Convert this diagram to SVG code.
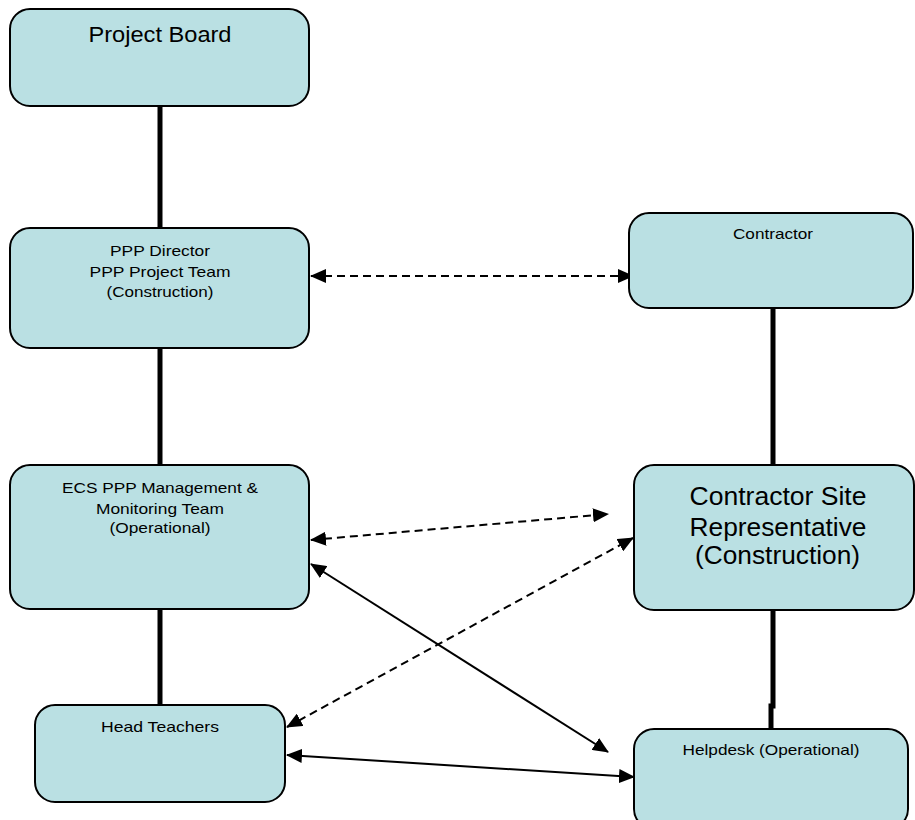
<svg xmlns="http://www.w3.org/2000/svg" width="915" height="820" viewBox="0 0 915 820">
  <style>
    .box { fill: #BAE0E3; stroke: #000; stroke-width: 2; }
    .lbl { font-family: "Liberation Sans", Arial, sans-serif; fill: #000; text-anchor: middle; }
    .s { font-size: 15px; }
    .m { font-size: 22px; }
    .l { font-size: 25px; }
    .trunk { stroke: #000; stroke-width: 5; fill: none; }
    .dash { stroke: #000; stroke-width: 2; stroke-dasharray: 8 5; fill: none; marker-start: url(#head); marker-end: url(#head); }
    .solid { stroke: #000; stroke-width: 2; fill: none; marker-start: url(#head); marker-end: url(#head); }
  </style>
  <defs>
    <marker id="head" markerUnits="userSpaceOnUse" markerWidth="16" markerHeight="14" refX="15" refY="7" orient="auto-start-reverse">
      <path d="M0,0 L16,7 L0,14 Z" fill="#000"/>
    </marker>
  </defs>
  <rect width="915" height="820" fill="#fff"/>

  <!-- connectors -->
  <g id="connectors">
    <line class="trunk" x1="160" y1="106" x2="160" y2="228"/>
    <line class="trunk" x1="160" y1="348" x2="160" y2="465"/>
    <line class="trunk" x1="160" y1="609" x2="160" y2="705"/>
    <line class="trunk" x1="773" y1="308" x2="773" y2="465"/>
    <polyline class="trunk" points="773,610 773,706 771,706 771,729"/>
    <line class="dash" x1="311" y1="276" x2="633" y2="276"/>
    <line class="dash" x1="311" y1="540" x2="608" y2="514"/>
    <line class="dash" x1="287" y1="727" x2="633" y2="538"/>
    <line class="solid" x1="311" y1="564" x2="608" y2="752"/>
    <line class="solid" x1="287" y1="755" x2="634" y2="777"/>
  </g>

  <g id="project-board">
    <rect class="box" x="10" y="9" width="299" height="97" rx="20"/>
    <text class="lbl m" x="160" y="42" textLength="143" lengthAdjust="spacingAndGlyphs">Project Board</text>
  </g>

  <g id="ppp-director">
    <rect class="box" x="10" y="228" width="299" height="120" rx="20"/>
    <text class="lbl s" x="160" y="256" textLength="100" lengthAdjust="spacingAndGlyphs">PPP Director</text>
    <text class="lbl s" x="160" y="276.5" textLength="141" lengthAdjust="spacingAndGlyphs">PPP Project Team</text>
    <text class="lbl s" x="160" y="296.5" textLength="107" lengthAdjust="spacingAndGlyphs">(Construction)</text>
  </g>

  <g id="contractor">
    <rect class="box" x="629" y="213" width="284" height="95" rx="20"/>
    <text class="lbl s" x="773" y="239" textLength="80" lengthAdjust="spacingAndGlyphs">Contractor</text>
  </g>

  <g id="ecs-team">
    <rect class="box" x="10" y="465" width="299" height="144" rx="20"/>
    <text class="lbl s" x="160" y="493" textLength="196" lengthAdjust="spacingAndGlyphs">ECS PPP Management &amp;</text>
    <text class="lbl s" x="160" y="514" textLength="128" lengthAdjust="spacingAndGlyphs">Monitoring Team</text>
    <text class="lbl s" x="160" y="533" textLength="101" lengthAdjust="spacingAndGlyphs">(Operational)</text>
  </g>

  <g id="site-rep">
    <rect class="box" x="634" y="465" width="280" height="145" rx="20"/>
    <text class="lbl l" x="778" y="505" textLength="177" lengthAdjust="spacingAndGlyphs">Contractor Site</text>
    <text class="lbl l" x="778" y="536" textLength="177" lengthAdjust="spacingAndGlyphs">Representative</text>
    <text class="lbl l" x="777.5" y="564" textLength="165" lengthAdjust="spacingAndGlyphs">(Construction)</text>
  </g>

  <g id="head-teachers">
    <rect class="box" x="35" y="705" width="250" height="97" rx="20"/>
    <text class="lbl s" x="160" y="732" textLength="118" lengthAdjust="spacingAndGlyphs">Head Teachers</text>
  </g>

  <g id="helpdesk">
    <rect class="box" x="634" y="729" width="274" height="100" rx="20"/>
    <text class="lbl s" x="771" y="755" textLength="177" lengthAdjust="spacingAndGlyphs">Helpdesk (Operational)</text>
  </g>
</svg>
